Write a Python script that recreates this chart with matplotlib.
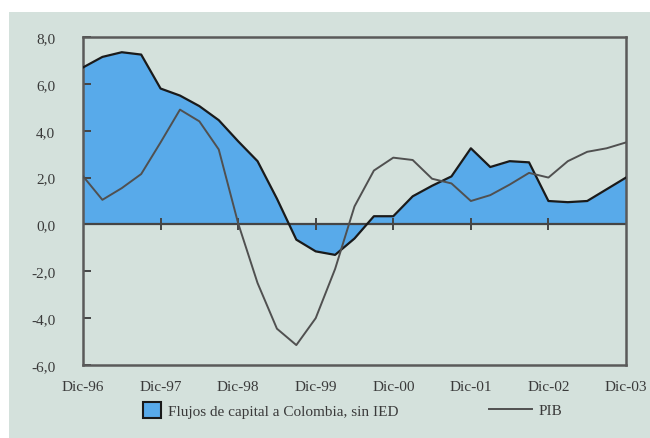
import numpy as np
import matplotlib.pyplot as plt
from matplotlib.patches import Patch, Rectangle
from matplotlib.lines import Line2D
from matplotlib.ticker import FuncFormatter

# quarterly data, Dic-96 .. Dic-03 (29 quarters)
flujos = [6.7, 7.15, 7.35, 7.25, 5.8, 5.5, 5.05, 4.45, 3.55, 2.7, 1.1,
          -0.65, -1.15, -1.3, -0.6, 0.35, 0.35, 1.2, 1.65, 2.05, 3.25,
          2.45, 2.7, 2.65, 1.0, 0.95, 1.0, 1.5, 2.0]
pib = [2.06, 1.05, 1.55, 2.15, 3.5, 4.9, 4.4, 3.2, 0.05, -2.5, -4.45,
       -5.15, -4.0, -1.9, 0.77, 2.3, 2.85, 2.75, 1.95, 1.75, 1.0,
       1.25, 1.7, 2.2, 2.0, 2.7, 3.1, 3.25, 3.5]
year_labels = ["Dic-96", "Dic-97", "Dic-98", "Dic-99", "Dic-00", "Dic-01",
               "Dic-02", "Dic-03"]

bg = '#d4e1dc'
fill_col = '#58aaea'
txt_col = '#3a3a3a'
plt.rcParams['font.family'] = ['Liberation Serif', 'DejaVu Serif']
plt.rcParams['font.size'] = 11

x = np.arange(len(flujos))
year_pos = np.arange(0, len(flujos), 4)

fig = plt.figure(figsize=(6.5, 4.39), dpi=100, facecolor='white')
fig.patches.append(Rectangle((9 / 650, 0), 1, 1 - 13 / 439,
                             transform=fig.transFigure, facecolor=bg,
                             edgecolor='none', zorder=-10))
ax = fig.add_axes([83 / 650, 1 - 366 / 439, (626 - 83) / 650, (366 - 38) / 439])
ax.set_facecolor(bg)

ax.fill_between(x, flujos, 0, color=fill_col, linewidth=0, zorder=1)
ax.plot(x, flujos, color='#1a1a1a', lw=1.6, zorder=3)
ax.axhline(0, color='#454545', lw=1.6, zorder=2)
ax.plot(x, pib, color='#505050', lw=1.4, zorder=4)
# x ticks sit on the zero line
ax.plot(year_pos[1:-1], np.zeros(len(year_pos) - 2), ls='none', marker='|',
        markersize=8, markeredgewidth=1.4, color='#454545', zorder=2)

ax.set_xlim(0, len(flujos) - 1)
ax.set_ylim(-6, 8)
ax.set_yticks(np.arange(-6, 9, 2))
ax.yaxis.set_major_formatter(FuncFormatter(lambda v, p: f"{v:.1f}".replace('.', ',')))
ax.set_xticks(year_pos)
ax.set_xticklabels(year_labels)
ax.tick_params(axis='y', direction='in', length=6, width=1.4, color='#454545',
               pad=20, labelcolor=txt_col)
ax.tick_params(axis='x', length=0, pad=11, labelcolor=txt_col)
for s in ax.spines.values():
    s.set_color('#5a5a5a')
    s.set_linewidth(1.8)

fig.legend(handles=[Patch(facecolor=fill_col, edgecolor='#1a1a1a', linewidth=1.5)],
           labels=["Flujos de capital a Colombia, sin IED"],
           loc='center left', bbox_to_anchor=(143 / 650, 1 - 411 / 439),
           frameon=False, borderpad=0, borderaxespad=0, handlelength=1.2,
           handleheight=1.2, handletextpad=0.45, labelcolor=txt_col)
fig.legend(handles=[Line2D([], [], color='#505050', lw=1.4)], labels=["PIB"],
           loc='center left', bbox_to_anchor=(489 / 650, 1 - 411 / 439),
           frameon=False, borderpad=0, borderaxespad=0, handlelength=2.8,
           handletextpad=0.45, labelcolor=txt_col)

fig.savefig('out.png', dpi=100, facecolor='white')
